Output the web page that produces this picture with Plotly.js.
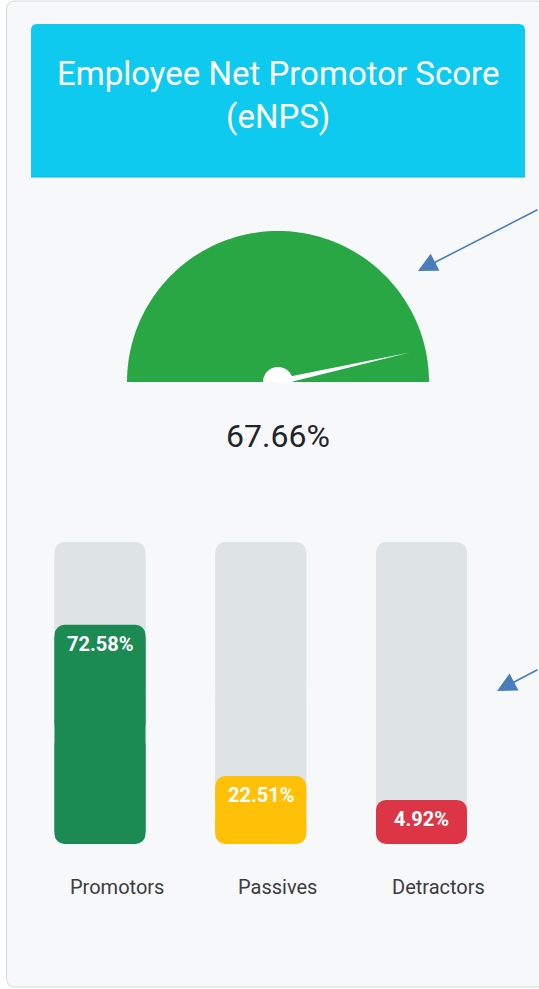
<!DOCTYPE html>
<html><head><meta charset="utf-8">
<script src="https://cdn.plot.ly/plotly-3.0.1.min.js"></script>
<style>html,body{margin:0;padding:0;background:#fff;}#chart{width:539px;height:989px;}</style>
</head><body><div id="chart"></div>
<script>
// ---- data ----
const titleText = 'Employee Net Promotor Score<br>(eNPS)';
const scoreValue = 67.66;            // eNPS shown under the gauge
const needlePosition = 93;           // needle reading, % of the dial
const categories = ['Promotors', 'Passives', 'Detractors'];
const shares = [72.58, 22.51, 4.92];
const barColors = ['#1b8a53', '#ffc107', '#dc3545'];
const minShown = 14.6;               // smallest drawn height so the label fits

// ---- helpers (pixel -> paper) ----
const W = 539, H = 989;
const px = x => x / W, py = y => 1 - y / H;
function rrect(x0, y0, x1, y1, r, topOnly) {
  const rb = topOnly ? 0 : r;
  return `M${px(x0 + r)},${py(y0)} L${px(x1 - r)},${py(y0)} Q${px(x1)},${py(y0)} ${px(x1)},${py(y0 + r)} ` +
    `L${px(x1)},${py(y1 - rb)} Q${px(x1)},${py(y1)} ${px(x1 - rb)},${py(y1)} L${px(x0 + rb)},${py(y1)} ` +
    `Q${px(x0)},${py(y1)} ${px(x0)},${py(y1 - rb)} L${px(x0)},${py(y0 + r)} Q${px(x0)},${py(y0)} ${px(x0 + r)},${py(y0)} Z`;
}
function semi(cx, cy, r) {
  let p = '';
  for (let i = 0; i <= 90; i++) {
    const a = Math.PI - i * Math.PI / 90;
    const x = cx + r * Math.cos(a), y = cy - r * Math.sin(a);
    p += (i ? ' L' : 'M') + px(x) + ',' + py(y);
  }
  return p + ' Z';
}
const gcx = 278, gcy = 382, gr = 151;
const ang = Math.PI * (1 - needlePosition / 100);
const tipX = gcx + 135 * Math.cos(ang), tipY = gcy - 135 * Math.sin(ang);
const nx = Math.sin(ang), ny = Math.cos(ang);
const needle = `M${px(gcx - 3 * nx)},${py(gcy - 3 * ny)} L${px(tipX)},${py(tipY)} L${px(gcx + 3 * nx)},${py(gcy + 3 * ny)} Z`;

const shapes = [
  {type: 'path', xref: 'paper', yref: 'paper', layer: 'below', path: rrect(6.5, 1, 560, 987, 9, false),
   fillcolor: '#f7f8fa', line: {color: '#d6d9dc', width: 1}},
  {type: 'path', xref: 'paper', yref: 'paper', layer: 'below', path: rrect(31, 24, 525, 177, 6, true),
   fillcolor: '#0fcaef', line: {width: 0}},
  {type: 'line', xref: 'paper', yref: 'paper', layer: 'below', x0: px(31), x1: px(525), y0: py(177), y1: py(177),
   line: {color: '#0fb6d6', width: 1}},
  {type: 'path', xref: 'paper', yref: 'paper', path: semi(gcx, gcy, gr), fillcolor: '#2aa745', line: {width: 0}},
  {type: 'path', xref: 'paper', yref: 'paper', path: needle, fillcolor: '#ffffff', line: {width: 0}},
  {type: 'path', xref: 'paper', yref: 'paper', path: semi(gcx, gcy, 15), fillcolor: '#ffffff', line: {width: 0}}
];

// each rounded bar = rounded top half + rounded bottom half + square middle covering the seam
const shown = shares.map(v => Math.max(v, minShown));
const cr = 10, bw = 0.566, ru = 4;   // ru: corner size in axis units
function barSet(tops, color) {
  const h = tops.map(v => v / 2);
  return [
    {type: 'bar', x: categories, y: h, base: h, width: bw, marker: {color, cornerradius: cr, line: {width: 0}}, hoverinfo: 'skip'},
    {type: 'bar', x: categories, y: h.map(v => -v), base: h, width: bw, marker: {color, cornerradius: cr, line: {width: 0}}, hoverinfo: 'skip'},
    {type: 'bar', x: categories, y: tops.map(v => v - 2 * ru), base: ru, width: bw, marker: {color, line: {width: 0}}, hoverinfo: 'skip'}
  ];
}
const traces = [...barSet(categories.map(() => 100), '#dee3e6'), ...barSet(shown, barColors)];

const annotations = [
  {xref: 'paper', yref: 'paper', x: px(278), y: py(95), text: titleText, showarrow: false,
   font: {family: 'Roboto', size: 33, color: '#ffffff'}, xanchor: 'center', yanchor: 'middle'},
  {xref: 'paper', yref: 'paper', x: px(278), y: py(436), text: scoreValue.toFixed(2) + '%', showarrow: false,
   font: {family: 'Roboto', size: 32, color: '#212529'}, xanchor: 'center', yanchor: 'middle'},
  {xref: 'paper', yref: 'paper', x: px(418), y: py(271), text: '', showarrow: true, arrowhead: 2, arrowsize: 2.4,
   arrowwidth: 1.6, arrowcolor: '#4a7ebb', ax: 127, ay: -62, standoff: 0},
  {xref: 'paper', yref: 'paper', x: px(497), y: py(691), text: '', showarrow: true, arrowhead: 2, arrowsize: 2.4,
   arrowwidth: 1.6, arrowcolor: '#4a7ebb', ax: 48, ay: -22, standoff: 0}
];
categories.forEach((c, i) => {
  annotations.push({xref: 'x', yref: 'y', x: c, y: shown[i], text: '<b>' + shares[i].toFixed(2) + '%</b>', showarrow: false,
    yanchor: 'top', yshift: -5, font: {family: 'Roboto', size: 20, color: '#ffffff'}});
  annotations.push({xref: 'x', yref: 'paper', x: c, y: py(887), xshift: 17, text: c, showarrow: false, yanchor: 'middle',
    font: {family: 'Roboto', size: 20, color: '#3a3d40'}});
});

const layout = {
  width: W, height: H, margin: {l: 0, r: 0, t: 0, b: 0},
  paper_bgcolor: '#ffffff', plot_bgcolor: 'rgba(0,0,0,0)',
  showlegend: false, barmode: 'overlay',
  xaxis: {domain: [0, 1], range: [-100 / 160.75, (539 - 100) / 160.75], visible: false, fixedrange: true},
  yaxis: {domain: [py(844), py(542)], range: [0, 100], visible: false, fixedrange: true},
  shapes, annotations, font: {family: 'Roboto'}
};
Plotly.newPlot('chart', traces, layout, {displayModeBar: false, staticPlot: true});
</script></body></html>
